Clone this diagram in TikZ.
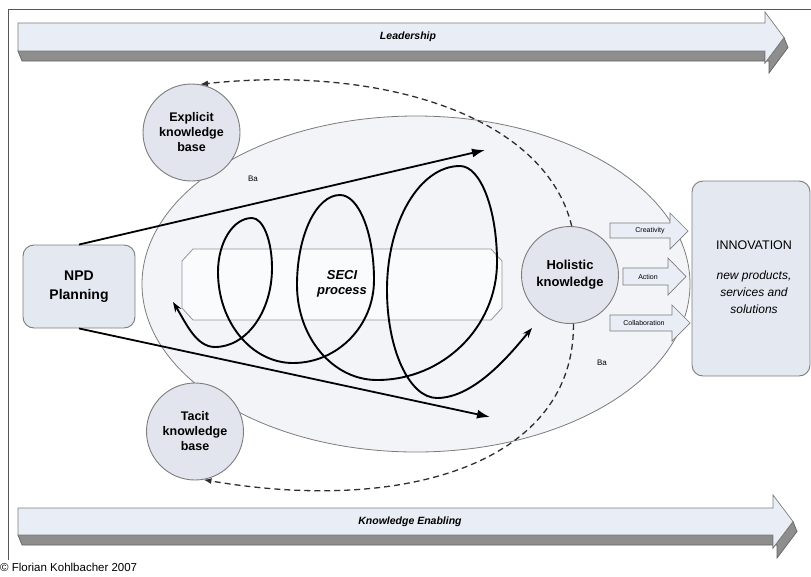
\documentclass[tikz,border=0pt]{standalone}
\usepackage{fontspec}
\setmainfont{Liberation Sans}
\usetikzlibrary{arrows.meta}
\definecolor{linegray}{HTML}{7C7C7C}
\definecolor{circfill}{HTML}{E2E5EE}
\definecolor{boxfill}{HTML}{E4E8F0}
\definecolor{bafill}{HTML}{F3F4F8}
\definecolor{barlight}{HTML}{E9EDF5}
\definecolor{bardark}{HTML}{8E8E8E}
\definecolor{dashcol}{HTML}{2E2E2E}
\begin{document}
\begin{tikzpicture}[x=1pt,y=-1pt,
  knowcirc/.style={circle, draw=linegray, line width=0.9pt, fill=circfill,
    minimum size=97pt, inner sep=0pt, align=center,
    font=\bfseries\fontsize{12.5}{15}\selectfont},
  roundbox/.style={draw=linegray, line width=0.9pt, fill=boxfill, rounded corners=11pt},
  barlightst/.style={fill=barlight, draw=linegray, line width=0.7pt},
  bardarkst/.style={fill=bardark, draw=linegray!80!black, line width=0.7pt},
  bartext/.style={font=\bfseries\itshape\fontsize{10.5}{12}\selectfont},
  blockarr/.style={fill=barlight, draw=linegray, line width=0.7pt},
  blocktext/.style={font=\fontsize{7}{8}\selectfont, inner sep=0pt},
  mainarrow/.style={line width=1.8pt, -{Latex[length=13pt,width=9pt]}},
  spiralst/.style={line width=1.9pt, {Stealth[length=10pt,width=7pt]}-{Stealth[length=10pt,width=7pt]}},
  dashst/.style={draw=dashcol, line width=1.3pt, dash pattern=on 6pt off 4pt, -{Latex[length=8pt,width=6pt]}},
  smalltext/.style={font=\fontsize{8}{9}\selectfont, inner sep=0pt}
]
\useasboundingbox (0,0) rectangle (811,576);
% frame
\draw[line width=1pt, draw=linegray!70!black] (8,560) -- (8,9.5) -- (811,9.5);
% Leadership bar
\fill[bardarkst] (18,51) -- (765,51) -- (765,63) -- (784,37.5) -- (788,47.5) -- (769,73) -- (769,61) -- (22,61) -- cycle;
\draw[barlightst] (18,23) -- (765,23) -- (765,12) -- (784,37.5) -- (765,63) -- (765,51) -- (18,51) -- cycle;
\node[bartext] (lead) at (408,37) {Leadership};
% Knowledge Enabling bar
\fill[bardarkst] (18,535) -- (773,535) -- (773,548) -- (793,521.5) -- (797,531.5) -- (777,558) -- (777,545) -- (22,545) -- cycle;
\draw[barlightst] (18,508) -- (773,508) -- (773,495) -- (793,521.5) -- (773,548) -- (773,535) -- (18,535) -- cycle;
\node[bartext] (ke) at (410,522) {Knowledge Enabling};
% Ba ellipse
\draw[draw=linegray, line width=0.8pt, fill=bafill] (416,284) ellipse [x radius=274pt, y radius=168pt];
% SECI box
\draw[draw=linegray!80, line width=0.8pt, fill=white!60!bafill] (193,249) -- (491,249) -- (502,261) -- (502,308) -- (491,320) -- (193,320) -- (182,308) -- (182,261) -- cycle;
\node[align=center, font=\bfseries\itshape\fontsize{13}{15}\selectfont] (seci) at (342,284) {SECI\\process};
% spiral
\draw[spiralst] (173,302) .. controls (186,323) and (196,347) .. (215,347)
 .. controls (246.5,347) and (272,311.6) .. (272,268)
 .. controls (272,240.4) and (263,218) .. (252,218)
 .. controls (233.2,218) and (218,242.2) .. (218,272)
 .. controls (218,322.2) and (251.6,363) .. (293,363)
 .. controls (337.7,363) and (374,325.8) .. (374,280)
 .. controls (374,233.1) and (358.8,195) .. (340,195)
 .. controls (316.3,195) and (297,235.3) .. (297,285)
 .. controls (297,337.4) and (332.8,380) .. (377,380)
 .. controls (443.2,380) and (497,327.1) .. (497,262)
 .. controls (497,209) and (480.4,166) .. (460,166)
 .. controls (419.7,166) and (387,221.6) .. (387,290)
 .. controls (387,349.6) and (409.4,398) .. (437,398)
 .. controls (475,398) and (512,352) .. (532,328);
% NPD
\node[roundbox, minimum width=112pt, minimum height=83pt, align=center,
  font=\bfseries\fontsize{14}{19}\selectfont] (npd) at (79,286.5) {NPD\\Planning};
\coordinate (upend) at (485,150);
\coordinate (loend) at (490,417);
\draw[mainarrow] (npd.north) -- (upend);
\draw[mainarrow] (npd.south) -- (loend);
% knowledge circles
\node[knowcirc] (expl) at (191.5,132.5) {Explicit\\knowledge\\base};
\node[knowcirc] (tacit) at (195,431.5) {Tacit\\knowledge\\base};
\node[knowcirc, font=\bfseries\fontsize{13}{17}\selectfont] (hol) at (570,275) {Holistic\\knowledge};
% dashed feedback
\draw[dashst] (hol.88) .. controls (545,115) and (380,65) .. (expl.80);
\draw[dashst] (hol.274) .. controls (575,460) and (410,515) .. (tacit.280);
% Ba labels
\node[smalltext] (ba1) at (253,179) {Ba};
\node[smalltext] (ba2) at (602,363) {Ba};
% block arrows
\draw[blockarr] (610,223) -- (670,223) -- (670,213) -- (688,231) -- (670,249) -- (670,238) -- (610,238) -- cycle;
\node[blocktext] (crea) at (650,231) {Creativity};
\draw[blockarr] (623,268) -- (668,268) -- (668,258) -- (686,276.5) -- (668,295) -- (668,285) -- (623,285) -- cycle;
\node[blocktext] (act) at (648,277) {Action};
\draw[blockarr] (610,315) -- (672,315) -- (672,305) -- (690,323) -- (672,341) -- (672,331) -- (610,331) -- cycle;
\node[blocktext] (coll) at (644,323) {Collaboration};
% Innovation box
\node[roundbox, minimum width=118pt, minimum height=195pt] (innov) at (751,278.5) {};
\node[font=\fontsize{12.5}{14}\selectfont] (innovtitle) at (754,245) {INNOVATION};
\node[align=center, font=\itshape\fontsize{12}{17}\selectfont] (innovtext) at (754,292) {new products,\\services and\\solutions};
% copyright
\node[anchor=west, inner sep=0pt, font=\fontsize{11.5}{12}\selectfont] (copy) at (0,567) {© Florian Kohlbacher 2007};
\end{tikzpicture}
\end{document}
